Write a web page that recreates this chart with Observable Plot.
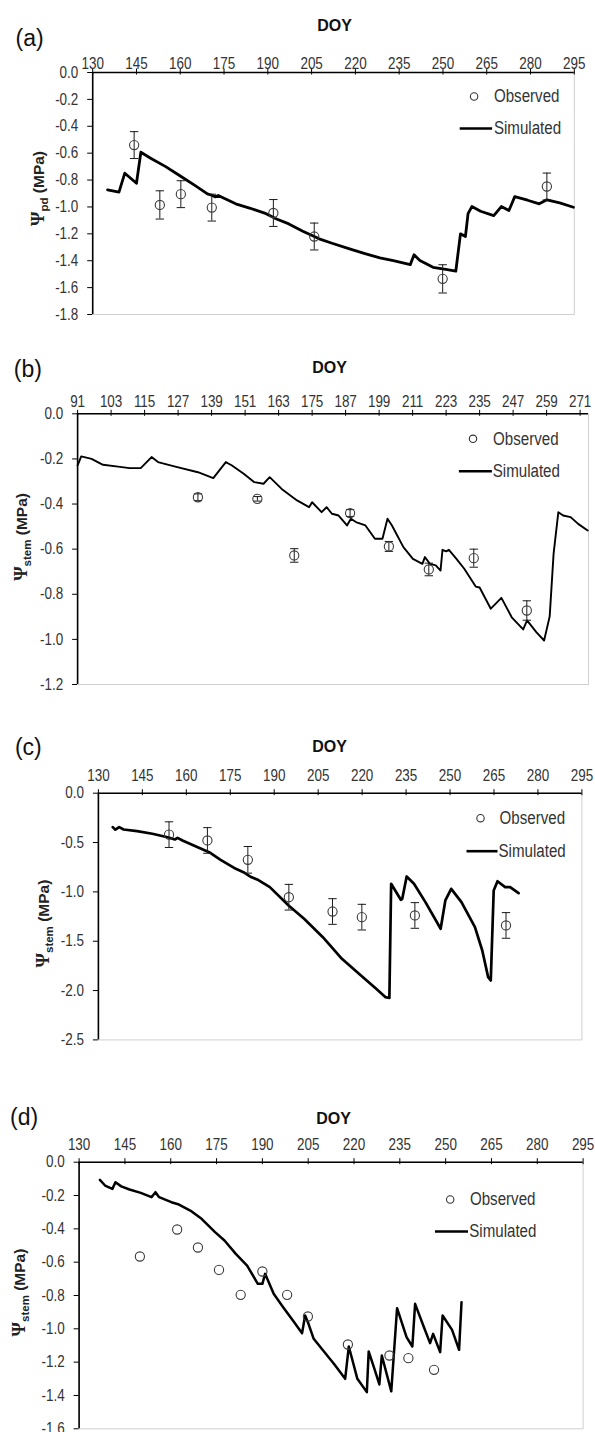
<!DOCTYPE html>
<html><head><meta charset="utf-8">
<script src="https://cdn.jsdelivr.net/npm/d3@7"></script>
<script src="https://cdn.jsdelivr.net/npm/@observablehq/plot@0.6"></script>
<style>
html,body{margin:0;padding:0;background:#fff;}
#chart{width:595px;height:1432px;overflow:hidden;}
#chart svg{display:block;}
</style></head><body><div id="chart"></div>
<script>
// ---------- DATA ----------
// Panel (a)
const aTicksX = [130,145,160,175,190,205,220,235,250,265,280,295];
const aTicksY = [0,-0.2,-0.4,-0.6,-0.8,-1.0,-1.2,-1.4,-1.6,-1.8];
const aSimDoy = [135.1,139,141,145,146.5,150,155,160,165,169.3,171,172,173,175,179,184,189.4,193,197.2,202,207.6,212,218,223,228.4,233,238.8,240.1,242.1,246.6,251,254.4,256,257.7,258.6,259.9,262.9,267.4,270,272.6,274.6,279,283,285.6,290,294.7];
const aSimPsi = [-0.873,-0.89,-0.749,-0.824,-0.593,-0.64,-0.70,-0.77,-0.84,-0.903,-0.915,-0.925,-0.915,-0.935,-0.977,-1.01,-1.05,-1.09,-1.126,-1.18,-1.237,-1.27,-1.312,-1.345,-1.379,-1.40,-1.429,-1.356,-1.399,-1.449,-1.465,-1.478,-1.2,-1.22,-1.05,-0.997,-1.032,-1.064,-0.997,-1.027,-0.923,-0.95,-0.977,-0.947,-0.97,-1.002];
const aObsDoy = [144.2,153,160.2,170.8,191.9,205.9,249.9,285.6];
const aObsPsi = [-0.54,-0.985,-0.905,-1.005,-1.045,-1.22,-1.535,-0.848];
const aObsErr = [0.10,0.105,0.10,0.10,0.10,0.10,0.105,0.10];

// Panel (b)
const bTicksX = [91,103,115,127,139,151,163,175,187,199,211,223,235,247,259,271];
const bTicksY = [0,-0.2,-0.4,-0.6,-0.8,-1.0,-1.2];
const bSimDoy = [91,92.3,96,100.1,105.5,109.6,113.7,117.5,119.8,126,134.1,139.6,144.1,146.3,150.5,154.3,157.6,159.8,164.1,169.6,173.9,175,178.4,180.2,182.1,184.5,187.5,188.9,190.7,194.1,197.5,200.2,202,203.6,207.7,211.1,214.5,215.4,217.2,219.3,221,221.7,223,224,226.7,229.5,233.6,235,239,242.8,246.5,250.6,252,255.3,258.1,260.1,261.5,263.2,264.9,267.6,270.3,273.7];
const bSimPsi = [-0.229,-0.189,-0.2,-0.226,-0.234,-0.241,-0.24,-0.192,-0.214,-0.234,-0.259,-0.285,-0.214,-0.229,-0.266,-0.303,-0.31,-0.281,-0.333,-0.384,-0.414,-0.392,-0.436,-0.414,-0.443,-0.451,-0.495,-0.465,-0.48,-0.495,-0.554,-0.554,-0.465,-0.495,-0.591,-0.643,-0.665,-0.635,-0.665,-0.672,-0.695,-0.603,-0.61,-0.603,-0.643,-0.687,-0.766,-0.77,-0.864,-0.816,-0.902,-0.956,-0.916,-0.968,-1.005,-0.898,-0.62,-0.436,-0.451,-0.458,-0.488,-0.517];
const bObsDoy = [134.1,155.4,168.6,188.6,202.5,216.8,232.9,251.9];
const bObsPsi = [-0.37,-0.377,-0.628,-0.44,-0.588,-0.69,-0.64,-0.872];
const bObsErr = [0.015,0.01,0.03,0.015,0.022,0.028,0.04,0.043];

// Panel (c)
const cTicksX = [130,145,160,175,190,205,220,235,250,265,280,295];
const cTicksY = [0,-0.5,-1.0,-1.5,-2.0,-2.5];
const cSimDoy = [134.9,135.8,137.1,138.6,143.2,148.4,153.6,156.1,157,158.7,163.9,167.8,171.7,176.9,179.5,182.1,184.6,188.5,195,200.2,206.6,213.1,219.6,224.8,228,229.3,229.9,233.2,233.7,235.2,237.7,241.6,246.8,248.4,250.4,253.9,258.5,261,263,263.9,264.9,266.2,268.8,270.5,273.4];
const cSimPsi = [-0.344,-0.37,-0.344,-0.368,-0.385,-0.411,-0.446,-0.469,-0.453,-0.479,-0.547,-0.598,-0.675,-0.766,-0.80,-0.85,-0.88,-0.952,-1.14,-1.273,-1.459,-1.678,-1.847,-1.982,-2.067,-2.075,-0.918,-1.08,-1.07,-0.844,-0.918,-1.104,-1.374,-1.087,-0.969,-1.104,-1.358,-1.594,-1.864,-1.898,-0.986,-0.892,-0.952,-0.952,-1.013];
const cObsDoy = [154.1,167.2,181,195,209.9,219.9,238,269.1];
const cObsPsi = [-0.42,-0.479,-0.675,-1.054,-1.199,-1.256,-1.239,-1.34];
const cObsErr = [0.13,0.13,0.135,0.13,0.13,0.13,0.13,0.13];

// Panel (d)
const dTicksX = [130,145,160,175,190,205,220,235,250,265,280,295];
const dTicksY = [0,-0.2,-0.4,-0.6,-0.8,-1.0,-1.2,-1.4,-1.6];
const dSimDoy = [136.8,138.5,140.9,141.9,143.8,146.5,150.2,153.7,155,156.2,160.2,162.7,166.4,170.1,174.5,177.6,181.3,185,188.5,190,190.9,193.7,196.8,200,203,204,205.1,206.8,209.9,213.6,217.1,218.3,221.1,224.2,224.8,226.5,228.3,229.1,232.2,234.1,237.2,239.1,240,242.8,244.9,245.9,248.2,249,252.1,254.4,255.2];
const dSimPsi = [-0.106,-0.14,-0.16,-0.12,-0.145,-0.164,-0.184,-0.21,-0.18,-0.21,-0.24,-0.254,-0.29,-0.34,-0.42,-0.47,-0.55,-0.62,-0.73,-0.73,-0.67,-0.79,-0.87,-0.95,-1.026,-0.92,-0.97,-1.06,-1.13,-1.214,-1.3,-1.106,-1.3,-1.38,-1.136,-1.23,-1.334,-1.16,-1.375,-0.876,-1.05,-1.106,-0.85,-0.986,-1.086,-1.03,-1.14,-0.92,-1.006,-1.126,-0.84];
const dObsDoy = [149.9,162.1,168.9,175.8,182.9,190,198.1,204.9,218,231.6,237.8,246.2];
const dObsPsi = [-0.566,-0.404,-0.512,-0.646,-0.796,-0.656,-0.796,-0.926,-1.094,-1.16,-1.176,-1.246];

// ---------- STYLE / LAYOUT ----------
const SANS = "'Liberation Sans',Arial,sans-serif";
const hline = {draw(ctx, size){const r = Math.sqrt(size/Math.PI); ctx.moveTo(-r,0); ctx.lineTo(r,0);}};

const panels = [
  {letter:"(a)", sub:"pd", ticksX:aTicksX, ticksY:aTicksY, xDomain:[130,295], yDomain:[-1.8,0],
   simDoy:aSimDoy, simPsi:aSimPsi, obsDoy:aObsDoy, obsPsi:aObsPsi, obsErr:aObsErr,
   L:{h:335, mt:72, mb:21, ml:92.2, mr:21.2, xPad:4, letter:[-77.2,-34.2], doy:[241.8,-46.5], ylab:[-53.7,-5],
      circ:[-100.2,24], obsT:[-80.4,24], line:[-98.4,56,16.2], simT:[-80.4,56], lw:2.8}},
  {letter:"(b)", sub:"stem", ticksX:bTicksX, ticksY:bTicksY, xDomain:[91,274], yDomain:[-1.2,0],
   simDoy:bSimDoy, simPsi:bSimPsi, obsDoy:bObsDoy, obsPsi:bObsPsi, obsErr:bObsErr,
   L:{h:365, mt:78.3, mb:16, ml:77.1, mr:7, xPad:6.6, letter:[-63.8,-44.3], doy:[251.9,-45.8], ylab:[-55.1,-12.2],
      circ:[-115.5,25], obsT:[-95.4,25], line:[-113.1,57.4,16.5], simT:[-95.8,57.4], lw:1.9}},
  {letter:"(c)", sub:"stem", ticksX:cTicksX, ticksY:cTicksY, xDomain:[130,295], yDomain:[-2.5,0],
   simDoy:cSimDoy, simPsi:cSimPsi, obsDoy:cObsDoy, obsPsi:cObsPsi, obsErr:cObsErr,
   L:{h:360, mt:92.7, mb:20.6, ml:97.9, mr:13.6, xPad:12, letter:[-83.5,-45.2], doy:[231.1,-46.7], ylab:[-53.9,7],
      circ:[-101.4,25], obsT:[-82.4,25], line:[-99.9,58,15.5], simT:[-83.4,58], lw:2.7}},
  {letter:"(d)", sub:"stem", ticksX:dTicksX, ticksY:dTicksY, xDomain:[130,295], yDomain:[-1.6,0],
   simDoy:dSimDoy, simPsi:dSimPsi, obsDoy:dObsDoy, obsPsi:dObsPsi, obsErr:null,
   L:{h:372, mt:101.7, mb:3.7, ml:78.6, mr:12.4, xPad:12.7, letter:[-69.1,-45], doy:[254.4,-43.7], ylab:[-58.6,-3],
      circ:[-132.9,37.3], obsT:[-113.2,37.3], line:[-131.6,69.3,16.5], simT:[-113.9,69.3], lw:2.5}}
];

function build(p){
  const L = p.L;
  const sim = p.simDoy.map((x,i)=>({x, y:p.simPsi[i]}));
  const obs = p.obsDoy.map((x,i)=>({x, y:p.obsPsi[i], e:p.obsErr ? p.obsErr[i] : 0}));
  const ylabel = "Ψ" + p.sub + " (MPa)";
  const marks = [
    Plot.frame({stroke:"#d0d0d0", strokeWidth:1}),
    Plot.ruleX(p.ticksX, {x:d=>d, y1:0, y2:0, insetTop:-3.5, insetBottom:-2.5, stroke:"#000", strokeWidth:1}),
    Plot.axisX({anchor:"top", ticks:p.ticksX, tickSize:0, tickPadding:L.xPad, tickFormat:d=>String(d), label:null,
      fontSize:16, fill:"#333"}),
    Plot.axisY({anchor:"left", ticks:p.ticksY, tickSize:5, tickPadding:9.4, tickFormat:d=>d.toFixed(1), label:null,
      fontSize:16, fill:"#333", stroke:"#000"}),
    Plot.ruleY([p.yDomain[1]], {stroke:"#000", strokeWidth:1.6}),
    Plot.ruleX([p.xDomain[0]], {stroke:"#000", strokeWidth:1.6}),
    Plot.line(sim, {x:"x", y:"y", stroke:"#000", strokeWidth:L.lw, strokeLinejoin:"round"})
  ];
  if (p.obsErr) {
    marks.push(
      Plot.ruleX(obs, {x:"x", y1:d=>d.y-d.e, y2:d=>d.y+d.e, stroke:"#1a1a1a", strokeWidth:1}),
      Plot.dot(obs, {x:"x", y:d=>d.y-d.e, symbol:hline, r:4.2, stroke:"#1a1a1a", strokeWidth:1}),
      Plot.dot(obs, {x:"x", y:d=>d.y+d.e, symbol:hline, r:4.2, stroke:"#1a1a1a", strokeWidth:1})
    );
  }
  marks.push(
    Plot.dot(obs, {x:"x", y:"y", r:4.6, stroke:"#3a3a3a", strokeWidth:1.1, fill:"none"}),
    // legend
    Plot.dot([0], {frameAnchor:"top-right", dx:L.circ[0], dy:L.circ[1], r:3.7, stroke:"#333", strokeWidth:1.1, fill:"none"}),
    Plot.text(["Observed"], {text:d=>d, frameAnchor:"top-right", dx:L.obsT[0], dy:L.obsT[1], textAnchor:"start", lineAnchor:"middle", fontSize:18, fill:"#333"}),
    Plot.dot([0], {frameAnchor:"top-right", dx:L.line[0], dy:L.line[1], r:L.line[2], symbol:hline, stroke:"#000", strokeWidth:2.6}),
    Plot.text(["Simulated"], {text:d=>d, frameAnchor:"top-right", dx:L.simT[0], dy:L.simT[1], textAnchor:"start", lineAnchor:"middle", fontSize:18, fill:"#333"}),
    // titles
    Plot.text([p.letter], {text:d=>d, frameAnchor:"top-left", dx:L.letter[0], dy:L.letter[1], textAnchor:"start", lineAnchor:"middle", fontSize:23, fill:"#111"}),
    Plot.text(["DOY"], {text:d=>d, frameAnchor:"top-left", dx:L.doy[0], dy:L.doy[1], textAnchor:"middle", lineAnchor:"middle", fontSize:16, fontWeight:"bold", fill:"#111"}),
    Plot.text([ylabel], {text:d=>d, frameAnchor:"left", dx:L.ylab[0], dy:L.ylab[1], rotate:-90, textAnchor:"middle", lineAnchor:"middle", fontSize:15.5, fontWeight:"bold", fill:"#222"})
  );
  const svg = Plot.plot({
    width:595, height:L.h, marginTop:L.mt, marginBottom:L.mb, marginLeft:L.ml, marginRight:L.mr,
    x:{domain:p.xDomain, label:null},
    y:{domain:p.yDomain, label:null},
    style:{fontFamily:SANS, fontSize:"15px", color:"#000", background:"white", overflow:"visible"},
    marks
  });
  // subscript styling of the y label
  const ns = "http://www.w3.org/2000/svg";
  for (const t of svg.querySelectorAll("text")) {
    if (t.textContent === ylabel) {
      t.textContent = "";
      const a = document.createElementNS(ns, "tspan");
      a.textContent = "Ψ";
      a.setAttribute("font-family", "'Liberation Serif','DejaVu Serif',serif");
      a.setAttribute("font-size", "18.5");
      const b = document.createElementNS(ns, "tspan");
      b.textContent = p.sub;
      b.setAttribute("font-size", "11.5");
      b.setAttribute("dy", "4");
      const c = document.createElementNS(ns, "tspan");
      c.textContent = " (MPa)";
      c.setAttribute("dy", "-4");
      t.append(a, b, c);
    }
  }
  return svg;
}

const root = document.getElementById("chart");
for (const p of panels) {
  const svg = build(p);
  root.appendChild(svg);
  // the original figure uses a narrow face: condense tick labels and legend text horizontally
  for (const t of svg.querySelectorAll("text")) {
    const g = t.closest("g");
    const aria = g ? (g.getAttribute("aria-label") || "") : "";
    const s = t.textContent;
    if (aria.includes("tick label") || s === "Observed" || s === "Simulated") {
      const len = t.getComputedTextLength();
      if (len > 0) {
        t.setAttribute("textLength", (len * 0.84).toFixed(2));
        t.setAttribute("lengthAdjust", "spacingAndGlyphs");
      }
    }
  }
}
</script>
</body></html>
